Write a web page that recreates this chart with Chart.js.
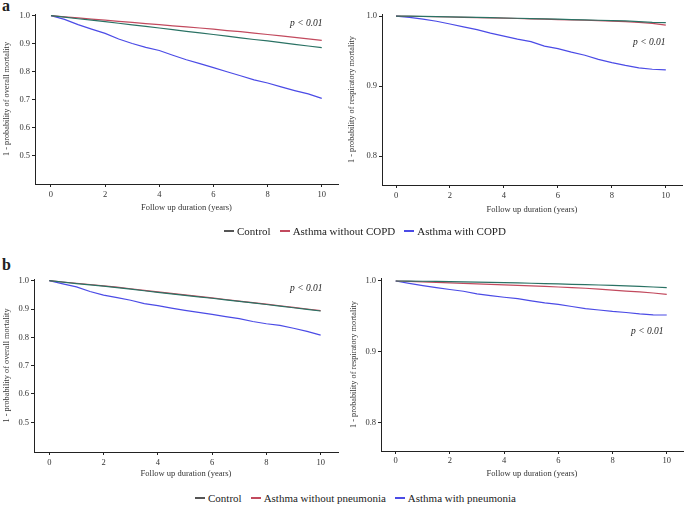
<!DOCTYPE html>
<html>
<head>
<meta charset="utf-8">
<script src="https://cdn.jsdelivr.net/npm/chart.js@4.4.1/dist/chart.umd.min.js"></script>
<style>
  body { margin: 0; background: #fff; width: 685px; height: 508px; position: relative; overflow: hidden; font-family: "Liberation Serif", "DejaVu Serif", serif; color: #222; }
  canvas { position: absolute; }
  .lbl { position: absolute; font-weight: bold; font-size: 16px; }
  .pval { position: absolute; font-style: italic; font-size: 9.5px; }
  .legend { position: absolute; display: flex; gap: 9px; font-size: 11px; align-items: center; white-space: nowrap; }
  .legend span.item { display: flex; align-items: center; }
  .legend i { display: inline-block; width: 10px; height: 1.2px; margin-right: 3px; }
</style>
</head>
<body>
<div class="lbl" style="left:2px;top:-3px;">a</div>
<div class="lbl" style="left:2px;top:256px;">b</div>

<canvas id="c1" width="340" height="215" style="left:0;top:0;"></canvas>
<canvas id="c2" width="345" height="215" style="left:340px;top:0;"></canvas>
<canvas id="c3" width="340" height="222" style="left:0;top:262px;"></canvas>
<canvas id="c4" width="345" height="222" style="left:340px;top:262px;"></canvas>

<div class="pval" style="left:290px;top:18px;">p &lt; 0.01</div>
<div class="pval" style="left:633px;top:37px;">p &lt; 0.01</div>
<div class="pval" style="left:290px;top:283px;">p &lt; 0.01</div>
<div class="pval" style="left:631px;top:326px;">p &lt; 0.01</div>

<div class="legend" id="leg1" style="left:224px;top:225px;"></div>
<div class="legend" id="leg2" style="left:195px;top:492px;"></div>

<script>
// follow-up years (shared grid)
const years = [0, 0.5, 1, 1.5, 2, 2.5, 3, 3.5, 4, 4.5, 5, 5.5, 6, 6.5, 7, 7.5, 8, 8.5, 9, 9.5, 10];

const xTicks = [0, 2, 4, 6, 8, 10];
const yTicksOverall = [0.5, 0.6, 0.7, 0.8, 0.9, 1.0];
const yTicksResp = [0.8, 0.9, 1.0];

const labelsCopd = ['Control', 'Asthma without COPD', 'Asthma with COPD'];
const labelsPneu = ['Control', 'Asthma without pneumonia', 'Asthma with pneumonia'];
const colors = ['#2a7264', '#c24a5e', '#4b4be6'];

// a - overall mortality
const aOverallControl = [1, .995, .989, .984, .979, .973, .967, .962, .956, .950, .944, .939, .933, .927, .921, .915, .910, .904, .898, .892, .886];
const aOverallNoCopd  = [1, .996, .992, .988, .984, .980, .976, .972, .968, .964, .960, .956, .952, .947, .943, .938, .933, .928, .923, .917, .912];
const aOverallCopd    = [1, .987, .968, .952, .937, .917, .901, .887, .876, .859, .843, .829, .815, .800, .786, .771, .760, .746, .733, .721, .705];

// a - respiratory mortality
const aRespControl = [1, .9998, .9995, .9992, .9988, .9985, .998, .9976, .9972, .9968, .9964, .996, .9955, .995, .9945, .994, .9935, .993, .992, .991, .9905];
const aRespNoCopd  = [1, .9997, .9993, .999, .9986, .9982, .9978, .9974, .997, .9965, .996, .9955, .995, .9945, .994, .9934, .9927, .992, .991, .9895, .987];
const aRespCopd    = [1, .998, .9955, .9925, .9886, .9846, .9805, .9755, .9713, .967, .9635, .957, .9535, .9485, .944, .938, .9335, .9295, .926, .924, .923];

// b - overall mortality
const bOverallControl = [1, .995, .99, .9855, .981, .9755, .97, .9645, .959, .9537, .9485, .943, .938, .9325, .927, .9215, .916, .910, .9045, .899, .893];
const bOverallNoPneu  = [1, .9955, .991, .9865, .982, .977, .9715, .966, .9605, .955, .9497, .9445, .939, .9335, .928, .9225, .917, .9115, .906, .900, .894];
const bOverallPneu    = [1, .989, .978, .962, .949, .940, .931, .919, .912, .903, .895, .888, .881, .873, .866, .856, .848, .842, .832, .821, .808];

// b - respiratory mortality
const bRespControl = [1, .9998, .9996, .9993, .999, .9987, .9983, .998, .9976, .9972, .9968, .9963, .9958, .9953, .9948, .9943, .9937, .9931, .9924, .9915, .9906];
const bRespNoPneu  = [1, .9993, .9986, .9979, .9972, .9965, .9958, .9951, .9944, .9937, .993, .9923, .9915, .9905, .9897, .9885, .987, .9858, .9845, .983, .981];
const bRespPneu    = [1, .9967, .9934, .9905, .988, .9855, .9818, .9792, .977, .975, .972, .9692, .967, .964, .961, .959, .957, .9555, .9535, .9522, .952];

const FONT = 'Liberation Serif';
const AXIS = '#222';

function drawKM(id, series, labels, p) {
  const datasets = series.map((vals, i) => ({
    label: labels[i],
    data: vals.map((v, k) => ({ x: years[k], y: v })),
    borderColor: colors[i],
    borderWidth: 1.2,
    pointRadius: 0,
    tension: 0,
    fill: false
  }));
  return new Chart(document.getElementById(id), {
    type: 'line',
    data: { datasets },
    options: {
      responsive: false,
      animation: false,
      events: [],
      layout: { padding: { top: p.padTop, right: p.padRight, left: 0, bottom: 0 } },
      plugins: { legend: { display: false }, tooltip: { enabled: false } },
      scales: {
        x: {
          type: 'linear',
          min: p.xMin, max: p.xMax,
          afterBuildTicks: s => { s.ticks = xTicks.map(v => ({ value: v })); },
          afterFit: s => { s.height = p.xH; },
          grid: { drawOnChartArea: false, drawTicks: true, tickLength: 3, color: AXIS },
          border: { display: true, color: AXIS, width: 1 },
          ticks: { color: '#333', font: { family: FONT, size: 8.5 }, padding: p.xTickPad, maxRotation: 0, callback: v => v },
          title: { display: true, text: 'Follow up duration (years)', color: '#333', font: { family: FONT, size: 8.5 }, padding: { top: 0, bottom: p.xTitlePad } }
        },
        y: {
          min: p.yMin, max: p.yMax,
          afterBuildTicks: s => { s.ticks = p.yTicks.map(v => ({ value: v })); },
          afterFit: s => { s.width = p.yW; },
          grid: { drawOnChartArea: false, drawTicks: true, tickLength: 3, color: AXIS },
          border: { display: true, color: AXIS, width: 1 },
          ticks: { color: '#333', font: { family: FONT, size: 8.5 }, padding: 2, callback: v => v.toFixed(1) },
          title: { display: true, text: p.yTitle, color: '#333', font: { family: FONT, size: 8.3 }, padding: { top: p.yTitlePad, bottom: 0 } }
        }
      }
    }
  });
}

drawKM('c1', [aOverallControl, aOverallNoCopd, aOverallCopd], labelsCopd, {
  padTop: 14, padRight: 2, xH: 31, yW: 35, xMin: -0.59, xMax: 10.6, yMin: 0.4, yMax: 1.006,
  yTicks: yTicksOverall, yTitle: '1 - probability of overall mortality', yTitlePad: 2, xTickPad: 3, xTitlePad: 2
});
drawKM('c2', [aRespControl, aRespNoCopd, aRespCopd], labelsCopd, {
  padTop: 14, padRight: 3, xH: 30, yW: 42, xMin: -0.52, xMax: 10.6, yMin: 0.7586, yMax: 1.0029,
  yTicks: yTicksResp, yTitle: '1 - probability of respiratory mortality', yTitlePad: 6.5, xTickPad: 3, xTitlePad: 0
});
drawKM('c3', [bOverallControl, bOverallNoPneu, bOverallPneu], labelsPneu, {
  padTop: 17, padRight: 2, xH: 32, yW: 34, xMin: -0.564, xMax: 10.64, yMin: 0.395, yMax: 1.006,
  yTicks: yTicksOverall, yTitle: '1 - probability of overall mortality', yTitlePad: 2, xTickPad: 2.5, xTitlePad: 5
});
drawKM('c4', [bRespControl, bRespNoPneu, bRespPneu], labelsPneu, {
  padTop: 16, padRight: 2, xH: 33, yW: 41, xMin: -0.542, xMax: 10.6, yMin: 0.76, yMax: 1.0042,
  yTicks: yTicksResp, yTitle: '1 - probability of respiratory mortality', yTitlePad: 8.5, xTickPad: 2, xTitlePad: 5
});

function buildLegend(id, labels) {
  const box = document.getElementById(id);
  labels.forEach((t, i) => {
    const it = document.createElement('span');
    it.className = 'item';
    it.innerHTML = `<i style="background:${i === 0 ? '#555' : colors[i]}"></i>${t}`;
    box.appendChild(it);
  });
}
buildLegend('leg1', labelsCopd);
buildLegend('leg2', labelsPneu);
</script>
</body>
</html>
